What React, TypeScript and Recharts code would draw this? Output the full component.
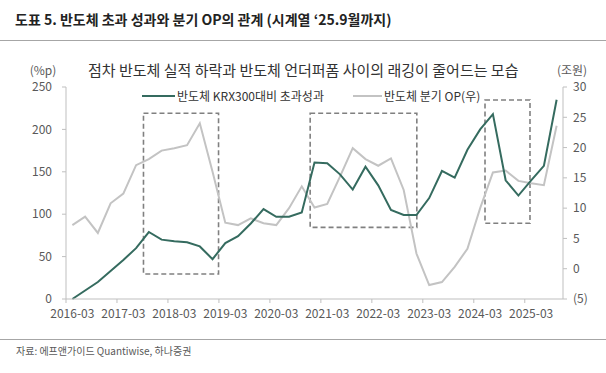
import React from "react";
import { LineChart, Line, XAxis, YAxis, ReferenceArea } from "recharts";

const quarters = [
  "2016-03", "2016-06", "2016-09", "2016-12",
  "2017-03", "2017-06", "2017-09", "2017-12",
  "2018-03", "2018-06", "2018-09", "2018-12",
  "2019-03", "2019-06", "2019-09", "2019-12",
  "2020-03", "2020-06", "2020-09", "2020-12",
  "2021-03", "2021-06", "2021-09", "2021-12",
  "2022-03", "2022-06", "2022-09", "2022-12",
  "2023-03", "2023-06", "2023-09", "2023-12",
  "2024-03", "2024-06", "2024-09", "2024-12",
  "2025-03", "2025-06", "2025-09",
];

// 반도체 KRX300대비 초과성과 (%p, left axis)
const excessReturn = [
  0, 10, 20, 33, 46, 60, 79, 70, 68, 67, 62, 47,
  66, 74, 89, 106, 97, 97, 102, 161, 160, 147, 129, 156,
  134, 105, 99, 99, 119, 151, 143, 176, 200, 218, 140, 122,
  140, 157, 235,
];

// 반도체 분기 OP (조원, right axis)
const quarterlyOP = [
  7.2, 8.6, 5.9, 10.8, 12.4, 17.1, 18.1, 19.5, 19.9, 20.4, 24.0, 16.0,
  7.6, 7.2, 8.3, 7.5, 7.2, 10.0, 13.6, 10.1, 10.7, 15.2, 19.9, 18.1,
  17.0, 18.2, 13.0, 2.5, -2.7, -2.2, 0.3, 3.3, 10.0, 15.9, 16.2, 14.5,
  14.1, 13.8, 23.6,
];

const xTickLabels = [
  "2016-03", "2017-03", "2018-03", "2019-03", "2020-03",
  "2021-03", "2022-03", "2023-03", "2024-03", "2025-03",
];
const leftTicks = [0, 50, 100, 150, 200, 250];
const rightTicks = [-5, 0, 5, 10, 15, 20, 25, 30];

// highlight boxes in data units (x: quarter index, y: left-axis %p)
const highlightBoxes = [
  { x1: 5.58, x2: 11.47, y1: 29.5, y2: 219 },
  { x1: 18.66, x2: 27.03, y1: 84.5, y2: 219 },
  { x1: 32.38, x2: 35.91, y1: 89.3, y2: 234.7 },
];

const data = quarters.map((q, i) => ({
  idx: i,
  quarter: q,
  excess: excessReturn[i],
  op: quarterlyOP[i],
}));

const xTicks = xTickLabels.map((l) => quarters.indexOf(l) - 0.5);

const W = 606;
const H = 373;
const PLOT_LEFT = 66;
const PLOT_RIGHT = 563;
const BAND = (PLOT_RIGHT - PLOT_LEFT) / quarters.length;

const FONT = "'Noto Sans CJK KR', 'Noto Sans', sans-serif";
const GREEN = "#356b5f";
const GREY = "#c3c3c3";
const AXIS = "#bfbfbf";
const TICK_TEXT = "#595959";

const XTick = (props: any) => {
  const { x, y, payload } = props;
  const label = quarters[Math.round(payload.value + 0.5)];
  return (
    <text
      x={x + BAND / 2}
      y={y}
      dy="0.71em"
      textAnchor="middle"
      fill={TICK_TEXT}
      fontSize={12}
      fontFamily={FONT}
    >
      {label}
    </text>
  );
};

export default function App() {
  return (
    <div
      style={{
        position: "absolute",
        left: 0,
        top: 0,
        width: W,
        height: H,
        background: "#fff",
        fontFamily: FONT,
        overflow: "hidden",
      }}
    >
      {/* title */}
      <div
        style={{
          position: "absolute",
          left: 15,
          top: 9,
          fontSize: 14,
          fontWeight: 700,
          color: "#222",
          whiteSpace: "nowrap",
          lineHeight: "20px",
        }}
      >
        도표 5. 반도체 초과 성과와 분기 OP의 관계 (시계열 ‘25.9월까지)
      </div>
      <div
        style={{
          position: "absolute",
          left: 0,
          top: 40,
          width: W,
          height: 1,
          background: "#a6a6a6",
        }}
      />
      {/* subtitle */}
      <div
        style={{
          position: "absolute",
          left: 88,
          top: 60,
          fontSize: 15,
          color: "#333",
          whiteSpace: "nowrap",
          lineHeight: "20px",
        }}
      >
        점차 반도체 실적 하락과 반도체 언더퍼폼 사이의 래깅이 줄어드는 모습
      </div>
      <div
        style={{
          position: "absolute",
          left: 23,
          top: 61,
          width: 40,
          textAlign: "center",
          fontSize: 12,
          color: TICK_TEXT,
          lineHeight: "18px",
        }}
      >
        (%p)
      </div>
      <div
        style={{
          position: "absolute",
          left: 548,
          top: 61,
          width: 48,
          textAlign: "center",
          fontSize: 12,
          color: TICK_TEXT,
          lineHeight: "18px",
        }}
      >
        (조원)
      </div>

      <div style={{ position: "absolute", left: 0, top: 0 }}>
        <LineChart
          width={W}
          height={H}
          data={data}
          margin={{ top: 87, right: 0, bottom: 44, left: 0 }}
        >
          <XAxis
            dataKey="idx"
            type="number"
            domain={[-0.5, quarters.length - 0.5]}
            ticks={xTicks}
            tick={<XTick />}
            interval={0}
            height={30}
            tickSize={4}
            tickMargin={6}
            stroke={AXIS}
            tickLine={{ stroke: AXIS }}
            allowDataOverflow
          />
          <YAxis
            yAxisId="left"
            orientation="left"
            domain={[0, 250]}
            ticks={leftTicks}
            width={PLOT_LEFT}
            tickSize={4}
            tickMargin={10}
            stroke={AXIS}
            tick={{ fill: TICK_TEXT, fontSize: 12, fontFamily: FONT }}
            interval={0}
          />
          <YAxis
            yAxisId="right"
            orientation="right"
            domain={[-5, 30]}
            ticks={rightTicks}
            width={W - PLOT_RIGHT}
            tickSize={4}
            tickMargin={6}
            stroke={AXIS}
            tick={{ fill: TICK_TEXT, fontSize: 12, fontFamily: FONT }}
            tickFormatter={(v: number) => (v < 0 ? `(${-v})` : `${v}`)}
            interval={0}
          />
          {highlightBoxes.map((b, i) => (
            <ReferenceArea
              key={i}
              yAxisId="left"
              x1={b.x1}
              x2={b.x2}
              y1={b.y1}
              y2={b.y2}
              fill="none"
              fillOpacity={0}
              stroke="#808080"
              strokeWidth={1.6}
              strokeDasharray="5 3"
              ifOverflow="visible"
            />
          ))}
          <Line
            yAxisId="right"
            type="linear"
            dataKey="op"
            stroke={GREY}
            strokeWidth={2}
            dot={false}
            isAnimationActive={false}
          />
          <Line
            yAxisId="left"
            type="linear"
            dataKey="excess"
            stroke={GREEN}
            strokeWidth={2}
            dot={false}
            isAnimationActive={false}
          />
        </LineChart>
      </div>

      {/* legend */}
      <svg
        style={{ position: "absolute", left: 0, top: 0 }}
        width={W}
        height={110}
      >
        <line x1={142} y1={96} x2={175} y2={96} stroke={GREEN} strokeWidth={2} />
        <line x1={353} y1={96} x2={382} y2={96} stroke={GREY} strokeWidth={2} />
      </svg>
      <div
        style={{
          position: "absolute",
          left: 177,
          top: 87,
          fontSize: 12,
          color: "#333",
          whiteSpace: "nowrap",
          lineHeight: "18px",
        }}
      >
        반도체 KRX300대비 초과성과
      </div>
      <div
        style={{
          position: "absolute",
          left: 384,
          top: 87,
          fontSize: 12,
          color: "#333",
          whiteSpace: "nowrap",
          lineHeight: "18px",
        }}
      >
        반도체 분기 OP(우)
      </div>

      {/* footer */}
      <div
        style={{
          position: "absolute",
          left: 0,
          top: 339,
          width: W,
          height: 1,
          background: "#a6a6a6",
        }}
      />
      <div
        style={{
          position: "absolute",
          left: 16,
          top: 342,
          fontSize: 10,
          color: TICK_TEXT,
          whiteSpace: "nowrap",
          lineHeight: "18px",
        }}
      >
        자료: 에프앤가이드 Quantiwise, 하나증권
      </div>
    </div>
  );
}
